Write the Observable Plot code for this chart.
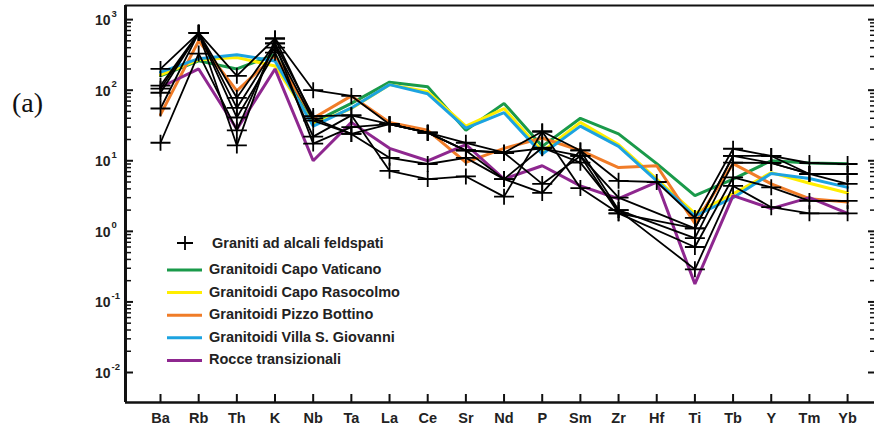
<!DOCTYPE html>
<html>
<head>
<meta charset="utf-8">
<script src="https://cdn.jsdelivr.net/npm/d3@7"></script>
<script src="https://cdn.jsdelivr.net/npm/@observablehq/plot@0.6"></script>
<style>
  html, body { margin: 0; padding: 0; background: #fff; }
  #chart { width: 874px; height: 429px; }
</style>
</head>
<body>
<div id="chart"></div>
<script>
// Trace elements along the x axis (spider diagram order)
const elements = ["Ba","Rb","Th","K","Nb","Ta","La","Ce","Sr","Nd","P","Sm","Zr","Hf","Ti","Tb","Y","Tm","Yb"];

// Normalized abundances, one value per element
const capoVaticano       = [160, 260, 200, 320, 35, 65, 130, 112, 27, 65, 16, 40, 24, 9.1, 3.2, 5.5, 10, 9.3, 9.1];
const capoRasocolmo      = [165, 270, 290, 220, 33, 55, 120, 95, 31, 55, 13.5, 35, 17, 5.5, 1.8, 3.4, 6.8, 4.8, 3.5];
const pizzoBottino       = [45, 500, 98, 310, 40, 83, 35, 27, 9.5, 15, 21, 14, 8, 8.5, 1.3, 9.1, 4.7, 2.9, 2.6];
const villaSGiovanni     = [180, 280, 318, 260, 31, 56, 120, 89, 29, 48, 12.5, 31, 16, 5.2, 1.65, 3.0, 6.6, 5.6, 4.2];
const rocceTransizionali = [110, 200, 28, 200, 10, 35, 15, 10, 17, 5.5, 8.5, 4.4, 2.9, 5.0, 0.18, 3.2, 2.1, 3.0, 1.8];

// Graniti ad alcali feldspati: individual samples (null = not determined)
const granitoA = [200, 650, 160, 540, 100, 83, 33, 25, 18, 13, 26, 14, 5.2, 5.0, 1.55, 14.8, 11.7, 9.3, 9.0];
const granitoB = [116, 650, 78, 460, 43, 44, 33, 25, 14, 13, 15, 11.7, 3.0, null, 1.1, 11.7, 9.3, 6.5, 6.5];
const granitoC = [92, 650, 56, 400, 37, 24, 11, 9, 11, 5.5, 15.3, 9.4, 2.0, null, 0.8, 9.4, 9.3, 6.5, 4.7];
const granitoD = [55, 650, 41, 340, 22, 44, 7.2, 5.5, 6.0, 3.1, 26, 4.1, 1.8, null, 0.6, 5.8, 4.2, 2.7, 2.7];
const granitoE = [18, 330, 27, 460, 17.5, 30, 33, 25, 14, 5.5, 3.5, 14, 2.0, null, 0.29, 4.4, 2.2, 1.8, 1.8];
const granitoF = [105, 650, 16.5, 540, 40, 24, 33, 25, 14, 13, 4.7, 11.7, 1.8, null, 1.1, 11.7, 11.7, 6.5, 6.5];

// Legend / series styling
const groups = [
  {name: "Granitoidi Capo Vaticano",     color: "#1a9a4a", values: capoVaticano},
  {name: "Granitoidi Capo Rasocolmo",    color: "#ffee00", values: capoRasocolmo},
  {name: "Granitoidi Pizzo Bottino",     color: "#f07c28", values: pizzoBottino},
  {name: "Granitoidi Villa S. Giovanni", color: "#1ca3e0", values: villaSGiovanni},
  {name: "Rocce transizionali",          color: "#8e278f", values: rocceTransizionali}
];
const graniti = [granitoA, granitoB, granitoC, granitoD, granitoE, granitoF];
const granitiLabel = "Graniti ad alcali feldspati";

// Long-format rows for the marks; missing values are dropped so lines join across them
const toRows = (values, series) =>
  values.map((v, i) => ({series, el: elements[i], i, v})).filter(d => d.v != null);
const groupRows = groups.flatMap(g => toRows(g.values, g.name));
const granitiRows = graniti.flatMap((vals, k) => toRows(vals, "G" + k));

// Log axis decades and minor ticks
const yMin = Math.pow(10, -2.425), yMax = Math.pow(10, 3.2);
const xMin = -0.917, xMax = 18.705;
const majors = d3.range(-2, 4).map(e => Math.pow(10, e));
const minors = d3.range(-2, 3).flatMap(e => d3.range(2, 10).map(m => m * Math.pow(10, e)));

// Open "+" marker drawn with strokes
const plusSymbol = {
  draw(context, size) {
    const r = Math.sqrt(size / Math.PI);
    context.moveTo(-r, 0); context.lineTo(r, 0);
    context.moveTo(0, -0.8 * r); context.lineTo(0, 0.8 * r);
  }
};

const font = "'Liberation Sans', Arial, Helvetica, sans-serif";
const blank = () => "";

const chart = Plot.plot({
  width: 874,
  height: 429,
  marginLeft: 125,
  marginRight: 0,
  marginTop: 5,
  marginBottom: 27,
  style: {fontFamily: font, fontWeight: "bold", color: "#222", background: "#fff", overflow: "visible"},
  x: {type: "linear", domain: [xMin, xMax], label: null},
  y: {type: "log", domain: [yMin, yMax], label: null},
  marks: [
    // frame (top, left, bottom)
    Plot.ruleY([yMax], {stroke: "#111", strokeWidth: 2}),
    Plot.ruleY([yMin], {stroke: "#111", strokeWidth: 2.5}),
    Plot.ruleX([xMin], {stroke: "#111", strokeWidth: 3}),
    // inward ticks
    Plot.axisX({ticks: d3.range(elements.length), tickSize: -8, tickFormat: blank, label: null, strokeWidth: 2, stroke: "#111"}),
    Plot.axisX({ticks: d3.range(elements.length), tickSize: 0, tickPadding: 10, tickFormat: i => elements[i], label: null,
                fontSize: 14.5, fontWeight: "bold", fill: "#222"}),
    Plot.axisY({ticks: majors, tickSize: -8, tickFormat: blank, label: null, strokeWidth: 2, stroke: "#111"}),
    Plot.axisY({ticks: minors, tickSize: -6, tickFormat: blank, label: null, strokeWidth: 1.5, stroke: "#111"}),
    Plot.axisY({anchor: "right", ticks: majors, tickSize: -7, tickFormat: blank, label: null, strokeWidth: 2, stroke: "#111"}),
    Plot.axisY({anchor: "right", ticks: minors, tickSize: -5, tickFormat: blank, label: null, strokeWidth: 1.5, stroke: "#111"}),
    // y tick labels as 10 with a raised exponent
    Plot.text(majors, {y: d => d, frameAnchor: "left", text: () => "10", textAnchor: "end", dx: -15, dy: 1,
                       fontSize: 14, fontWeight: "bold", fill: "#222"}),
    Plot.text(majors, {y: d => d, frameAnchor: "left", text: d => String(Math.round(Math.log10(d))),
                       textAnchor: "start", dx: -14, dy: -6, fontSize: 9.5, fontWeight: "bold", fill: "#222"}),
    // coloured granitoid groups
    ...groups.map(g => Plot.line(groupRows.filter(d => d.series === g.name),
      {x: "i", y: "v", stroke: g.color, strokeWidth: 3, strokeLinejoin: "miter"})),
    // alkali-feldspar granite samples
    Plot.line(granitiRows, {x: "i", y: "v", z: "series", stroke: "#000", strokeWidth: 1.8}),
    Plot.dot(granitiRows, {x: "i", y: "v", symbol: plusSymbol, r: 10, fill: "none", stroke: "#000", strokeWidth: 1.8})
  ]
});

// Legend inside the plotting area, and the panel label
const svg = d3.select(chart);
const legend = svg.append("g")
  .attr("font-family", font).attr("font-weight", "bold").attr("font-size", 14.5)
  .attr("fill", "#222").attr("text-anchor", "start");
legend.append("path").attr("transform", "translate(185,243)")
  .attr("d", "M-8,0H8M0,-7V7").attr("stroke", "#000").attr("stroke-width", 1.8).attr("fill", "none");
legend.append("text").attr("x", 212).attr("y", 243).attr("dy", "0.35em").text(granitiLabel);
groups.forEach((g, k) => {
  const y = 270 + k * 22.6;
  legend.append("line").attr("x1", 167).attr("x2", 202).attr("y1", y).attr("y2", y)
    .attr("stroke", g.color).attr("stroke-width", 3);
  legend.append("text").attr("x", 209).attr("y", y - 1).attr("dy", "0.35em").text(g.name);
});
svg.append("text").attr("x", 12).attr("y", 112).attr("text-anchor", "start")
  .attr("font-family", "'Liberation Serif', 'Times New Roman', serif").attr("font-size", 28)
  .attr("font-weight", "normal").attr("fill", "#111").text("(a)");

document.getElementById("chart").append(chart);
</script>
</body>
</html>
